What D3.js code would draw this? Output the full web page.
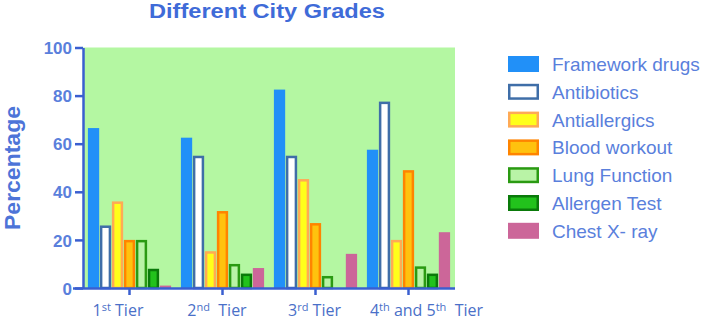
<!DOCTYPE html>
<html>
<head>
<meta charset="utf-8">
<script src="https://cdn.jsdelivr.net/npm/d3@7"></script>
<style>
  body { margin: 0; background: #fff; }
  svg { display: block; }
</style>
</head>
<body>
<svg id="chart" width="709" height="322"></svg>
<script>
// tiers along the x axis (label parts: text, is superscript)
const tiers = ['1st', '2nd', '3rd', '4th5th'];
const tierLabels = [
  [['1', false], ['st', true], [' Tier', false]],
  [['2', false], ['nd', true], ['\u00a0 Tier', false]],
  [['3', false], ['rd', true], [' Tier', false]],
  [['4', false], ['th', true], [' and 5', false], ['th', true], ['\u00a0 Tier', false]]
];

const series = ['Framework drugs', 'Antibiotics', 'Antiallergics', 'Blood workout',
  'Lung Function', 'Allergen Test', 'Chest X- ray'];

// values per series, one per tier
const frameworkDrugs = [66.5, 62.5, 82.5, 57.5];
const antibiotics = [26, 55, 55, 77.5];
const antiallergics = [36, 15.3, 45.3, 20];
const bloodWorkout = [20, 32, 27, 49];
const lungFunction = [20, 10, 5, 9];
const allergenTest = [8, 6, 0, 6];
const chestXray = [1, 8.3, 14.2, 23.2];

const yTicks = [0, 20, 40, 60, 80, 100];

const values = [frameworkDrugs, antibiotics, antiallergics, bloodWorkout,
  lungFunction, allergenTest, chestXray];

const fills = ['#2190f8', '#ffffff', '#ffff1a', '#ffc20e', '#b9f3a6', '#22c21c', '#cc6699'];
const strokes = ['#2190f8', '#3f6ea8', '#ffaa55', '#ff8400', '#2a9a12', '#0a7a0a', '#cc6699'];
const solid = j => j === 0 || j === 6;

// the tier labels are not quite centred under their ticks in the original
const labelShift = [-11.5, -5.5, -1, 18];

const axisColor = '#3a5fd0';

const svg = d3.select('#chart');

const plot = { left: 83, right: 455, top: 47.5, bottom: 288 };

const x0 = d3.scaleBand()
  .domain(tiers)
  .range([plot.left, plot.right])
  .paddingInner(0.09)
  .paddingOuter(0.045);

const x1 = d3.scaleBand()
  .domain(series)
  .range([0, x0.bandwidth()])
  .padding(0.06);

const y = d3.scaleLinear()
  .domain([0, 100])
  .range([plot.bottom, plot.top]);

// plot background
svg.append('rect')
  .attr('x', plot.left)
  .attr('y', y(100))
  .attr('width', plot.right - plot.left)
  .attr('height', y(0) - y(100))
  .attr('fill', '#b4f7a2');

// bars
const groups = svg.append('g').selectAll('g')
  .data(tiers)
  .join('g')
  .attr('transform', d => `translate(${x0(d)},0)`);

groups.selectAll('rect')
  .data((t, i) => series.map((s, j) => ({ s, j, v: values[j][i] })).filter(d => d.v > 0))
  .join('rect')
  .attr('x', d => x1(d.s) + (solid(d.j) ? 0 : 1.25))
  .attr('y', d => y(d.v) + (solid(d.j) ? 0 : 1.25))
  .attr('width', d => x1.bandwidth() - (solid(d.j) ? 0 : 2.5))
  .attr('height', d => Math.max(0, y(0) - y(d.v) - (solid(d.j) ? 0 : 1.25)))
  .attr('fill', d => fills[d.j])
  .attr('stroke', d => (solid(d.j) ? 'none' : strokes[d.j]))
  .attr('stroke-width', 2.5);

// y axis
const yAxis = svg.append('g')
  .attr('transform', `translate(${plot.left},0)`)
  .call(d3.axisLeft(y).tickValues(yTicks).tickSize(8).tickPadding(3).tickSizeOuter(0));
yAxis.select('.domain').attr('stroke', axisColor).attr('stroke-width', 2.5);
yAxis.selectAll('.tick line').attr('stroke', axisColor).attr('stroke-width', 2.5);
yAxis.selectAll('.tick text')
  .attr('fill', '#5a7fdc')
  .attr('dy', '0.36em')
  .style('font', 'bold 17px "Liberation Sans", Arial, sans-serif');

// x axis
const xAxis = svg.append('g')
  .attr('transform', `translate(0,${plot.bottom})`)
  .call(d3.axisBottom(x0).tickSize(7).tickSizeOuter(0).tickFormat(''));
xAxis.select('.domain').attr('stroke', axisColor).attr('stroke-width', 2.5)
  .attr('d', `M${plot.left - 10},0.5H${plot.right}`);
xAxis.selectAll('.tick line').attr('stroke', axisColor).attr('stroke-width', 2.5);

// x labels with superscripts
const xLabels = svg.append('g').selectAll('text')
  .data(tiers)
  .join('text')
  .attr('x', (d, i) => x0(d) + x0.bandwidth() / 2 + labelShift[i])
  .attr('y', 316)
  .attr('text-anchor', 'middle')
  .attr('fill', '#4a70c8')
  .style('font', '16px "Open Sans", "Liberation Sans", sans-serif');

xLabels.each(function (d, i) {
  const t = d3.select(this);
  tierLabels[i].forEach(([txt, sup]) => {
    t.append('tspan')
      .attr('baseline-shift', sup ? '45%' : null)
      .style('font-size', sup ? '11px' : null)
      .text(txt);
  });
});

// title
svg.append('text')
  .attr('x', 267)
  .attr('y', 17.5)
  .attr('text-anchor', 'middle')
  .attr('fill', '#3f6bd8')
  .attr('textLength', 236)
  .attr('lengthAdjust', 'spacingAndGlyphs')
  .style('font', 'bold 19.5px "Liberation Sans", Arial, sans-serif')
  .text('Different City Grades');

// y label
svg.append('text')
  .attr('transform', 'translate(19.5,168) rotate(-90)')
  .attr('text-anchor', 'middle')
  .attr('fill', '#4d74d8')
  .attr('textLength', 124)
  .attr('lengthAdjust', 'spacingAndGlyphs')
  .style('font', 'bold 22px "Liberation Sans", Arial, sans-serif')
  .text('Percentage');

// legend
const legend = svg.append('g').selectAll('g')
  .data(series)
  .join('g')
  .attr('transform', (d, i) => `translate(508,${56 + i * 27.8})`);

legend.append('rect')
  .attr('x', (d, i) => (solid(i) ? 0 : 1.25))
  .attr('y', (d, i) => (solid(i) ? 0 : 1.25))
  .attr('width', (d, i) => (solid(i) ? 31 : 28.5))
  .attr('height', (d, i) => (solid(i) ? 16 : 13.5))
  .attr('fill', (d, i) => fills[i])
  .attr('stroke', (d, i) => (solid(i) ? 'none' : strokes[i]))
  .attr('stroke-width', 2.5);

legend.append('text')
  .attr('x', 44)
  .attr('y', 15)
  .attr('fill', '#5a7fdc')
  .style('font', '19px "Liberation Sans", Arial, sans-serif')
  .text(d => d);
</script>
</body>
</html>
